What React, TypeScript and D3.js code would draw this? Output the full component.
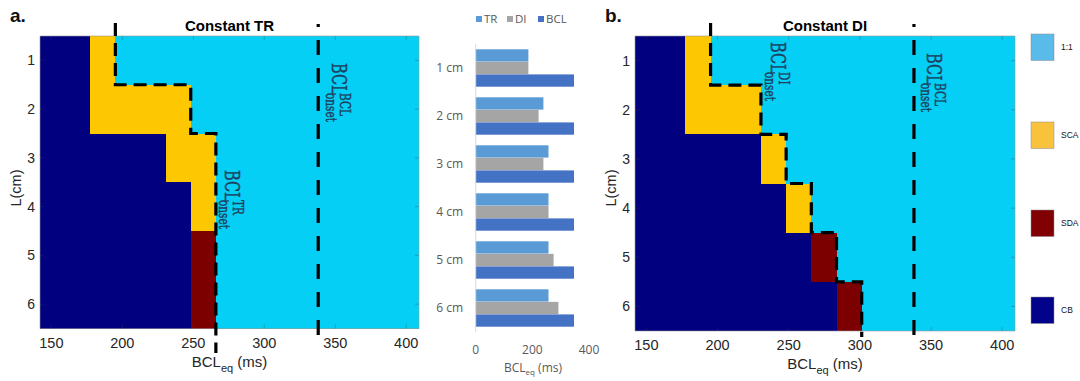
import React from "react";
import * as d3 from "d3";

// ---- Heat-map data (BCL_eq in ms, rows = cable length L in cm) ----
const rowLabels = [1, 2, 3, 4, 5, 6];
const xTicks = [150, 200, 250, 300, 350, 400];
const xDomain = [142, 409];

// Constant TR protocol: CB up to cbEnd, then arrhythmia type up to onset, 1:1 beyond
const trCbEnd = [177.4, 177.4, 230.5, 248.2, 248.2, 248.2];
const trOnset = [195.1, 248.2, 265.9, 265.9, 265.9, 265.9];
const trType = ["SCA", "SCA", "SCA", "SCA", "SDA", "SDA"];

// Constant DI protocol
const diCbEnd = [177.4, 177.4, 230.5, 248.2, 265.9, 283.6];
const diOnset = [195.1, 230.5, 248.2, 265.9, 283.6, 301.3];
const diType = ["SCA", "SCA", "SCA", "SCA", "SDA", "SDA"];

const bclOnset = 338;

// ---- Bar chart data ----
const barCategories = ["1 cm", "2 cm", "3 cm", "4 cm", "5 cm", "6 cm"];
const barSeries = ["TR", "DI", "BCL"];
const trBars = [186, 239, 257, 257, 257, 257];
const diBars = [186, 222, 239, 257, 275, 292];
const bclBars = [347, 347, 347, 347, 347, 347];
const barTicks = [0, 200, 400];

// ---- Legend ----
const stateNames = ["1:1", "SCA", "SDA", "CB"];

const stateColor: Record<string, string> = {
  "1:1": "#06cff6",
  SCA: "#fdc802",
  SDA: "#7d0000",
  CB: "#01017f",
};
const legendColor: Record<string, string> = {
  "1:1": "#58bbea",
  SCA: "#f9c23c",
  SDA: "#800004",
  CB: "#02028a",
};
const barColor: Record<string, string> = {
  TR: "#5b9bd5",
  DI: "#a5a5a5",
  BCL: "#4472c4",
};

const SANS = "Liberation Sans, Arial, sans-serif";
const SERIF = "DejaVu Serif, Liberation Serif, serif";
const OFFICE = "Open Sans, Noto Sans, sans-serif";

function OnsetLabel({ x, y, sup }: { x: number; y: number; sup: string }) {
  return (
    <g
      transform={`translate(${x},${y}) rotate(90) scale(1,1.4)`}
      fill="#1d4260"
      stroke="#1d4260"
      strokeWidth={0.35}
      fontFamily={SERIF}
    >
      <text x={0} y={0} fontSize={14.5}>
        BCL
      </text>
      <text x={30} y={-5.5} fontSize={10.5}>
        {sup}
      </text>
      <text x={30} y={4.5} fontSize={10.5}>
        onset
      </text>
    </g>
  );
}

type PanelProps = {
  left: number;
  right: number;
  top: number;
  bottom: number;
  cbEnd: number[];
  onset: number[];
  types: string[];
  title: string;
  letter: string;
  stepTop: number;
  stepEnd: number;
  supText: string;
  onsetLabel: [number, number];
  bclLabel: [number, number];
};

function HeatPanel(p: PanelProps) {
  const x = d3.scaleLinear().domain(xDomain).range([p.left, p.right]);
  const y = d3
    .scaleBand<number>()
    .domain(rowLabels)
    .range([p.top, p.bottom])
    .padding(0);
  const bw = y.bandwidth();
  const cx = (p.left + p.right) / 2;
  // pixel-snapped row edges, shared by neighbouring rows so no seams appear
  const edge = (i: number) => Math.round(p.top + i * bw + 1e-6);

  const pts: [number, number][] = [[x(p.onset[0]), p.stepTop]];
  p.onset.forEach((v, i) => {
    const last = i === p.onset.length - 1;
    const yb = last ? p.stepEnd : (y(rowLabels[i]) as number) + bw;
    pts.push([x(v), yb]);
    if (!last) pts.push([x(p.onset[i + 1]), yb]);
  });
  const stepPath = d3.line()(pts) as string;

  const tickLen = 4;
  return (
    <g>
      <text x={p.left - 30} y={22} fontFamily={SANS} fontWeight="bold" fontSize={19} fill="#111">
        {p.letter}
      </text>
      <text x={cx} y={30.5} textAnchor="middle" fontFamily={SANS} fontWeight="bold" fontSize={15} fill="#000">
        {p.title}
      </text>
      <g shapeRendering="crispEdges">
        {/* background state 1:1 */}
        <rect x={p.left} y={p.top} width={p.right - p.left} height={p.bottom - p.top} fill={stateColor["1:1"]} />
        {rowLabels.map((r, i) => {
          const y0 = edge(i);
          const y1 = edge(i + 1);
          return (
            <g key={r}>
              <rect
                x={x(xDomain[0])}
                y={y0}
                width={x(p.cbEnd[i]) - x(xDomain[0])}
                height={y1 - y0}
                fill={stateColor.CB}
              />
              <rect
                x={x(p.cbEnd[i])}
                y={y0}
                width={x(p.onset[i]) - x(p.cbEnd[i])}
                height={y1 - y0}
                fill={stateColor[p.types[i]]}
              />
            </g>
          );
        })}
      </g>
      <rect x={p.left} y={p.top} width={p.right - p.left} height={p.bottom - p.top} fill="none" stroke="#9a9a9a" strokeWidth={0.6} />
      {/* ticks */}
      <g stroke="#404040" strokeOpacity={0.45} strokeWidth={0.7}>
        {xTicks.map((t) => (
          <g key={t}>
            <line x1={x(t)} x2={x(t)} y1={p.top} y2={p.top + tickLen} />
            <line x1={x(t)} x2={x(t)} y1={p.bottom} y2={p.bottom - tickLen} />
          </g>
        ))}
        {rowLabels.map((r) => {
          const yc = (y(r) as number) + bw / 2;
          return (
            <g key={r}>
              <line x1={p.left} x2={p.left + tickLen} y1={yc} y2={yc} />
              <line x1={p.right} x2={p.right - tickLen} y1={yc} y2={yc} />
            </g>
          );
        })}
      </g>
      {/* tick labels */}
      {xTicks.map((t) => (
        <text key={t} x={x(t)} y={p.bottom + 19} textAnchor="middle" fontFamily={SANS} fontSize={14.5} fill="#262626">
          {t}
        </text>
      ))}
      {rowLabels.map((r) => (
        <text
          key={r}
          x={p.left - 5}
          y={(y(r) as number) + bw / 2 + 5}
          textAnchor="end"
          fontFamily={SANS}
          fontSize={14}
          fill="#262626"
        >
          {r}
        </text>
      ))}
      <text
        transform={`translate(${p.left - 19},188) rotate(-90)`}
        textAnchor="middle"
        fontFamily={SANS}
        fontSize={14.5}
        fill="#262626"
      >
        L(cm)
      </text>
      <text x={cx} y={p.bottom + 38} textAnchor="middle" fontFamily={SANS} fontSize={15} fill="#262626">
        BCL
        <tspan fontSize={11} dy={5}>
          eq
        </tspan>
        <tspan dy={-5}> (ms)</tspan>
      </text>
      {/* onset boundaries */}
      <path d={stepPath} fill="none" stroke="#000" strokeWidth={3.2} strokeDasharray="13 7" />
      <line
        x1={x(bclOnset)}
        x2={x(bclOnset)}
        y1={p.top - 12}
        y2={p.bottom + 10}
        stroke="#000"
        strokeWidth={3.2}
        strokeDasharray="3 13 15 13 15 13 15 13 15 13 15 13 15 13 15 13 15 13 15 13 15 13 15 13"
      />
      <OnsetLabel x={p.onsetLabel[0]} y={p.onsetLabel[1]} sup={p.supText} />
      <OnsetLabel x={p.bclLabel[0]} y={p.bclLabel[1]} sup="BCL" />
    </g>
  );
}

function BarPanel() {
  const x = d3.scaleLinear().domain([0, 400]).range([475.7, 589]);
  const y = d3
    .scaleBand<string>()
    .domain(barCategories)
    .range([44, 332])
    .paddingInner(0.21)
    .paddingOuter(0.105);
  const inner = d3.scaleBand<string>().domain(barSeries).range([0, y.bandwidth()]).padding(0.02);
  const values: Record<string, number[]> = { TR: trBars, DI: diBars, BCL: bclBars };
  const legendX = [476, 507, 538];
  return (
    <g fontFamily={OFFICE} fill="#595959">
      {barSeries.map((s, i) => (
        <g key={s}>
          <rect x={legendX[i]} y={16} width={6} height={6} fill={barColor[s]} />
          <text x={legendX[i] + 8} y={23} fontSize={11.5}>
            {s}
          </text>
        </g>
      ))}
      {barCategories.map((c, ci) => (
        <g key={c}>
          {barSeries.map((s) => (
            <rect
              key={s}
              x={x(0)}
              y={(y(c) as number) + (inner(s) as number)}
              width={x(values[s][ci]) - x(0)}
              height={inner.bandwidth()}
              fill={barColor[s]}
            />
          ))}
          <text x={463} y={(y(c) as number) + y.bandwidth() / 2 + 4} textAnchor="end" fontSize={12}>
            {c}
          </text>
        </g>
      ))}
      <line x1={x(0)} x2={x(0)} y1={44} y2={332} stroke="#d9d9d9" strokeWidth={1} />
      {barTicks.map((t) => (
        <text key={t} x={x(t)} y={354} textAnchor="middle" fontSize={12}>
          {t}
        </text>
      ))}
      <text x={533} y={372} textAnchor="middle" fontSize={12}>
        BCL
        <tspan fontSize={8} dy={3}>
          eq
        </tspan>
        <tspan dy={-3}> (ms)</tspan>
      </text>
    </g>
  );
}

function Legend() {
  const ys = [34, 122, 210, 297];
  return (
    <g>
      {stateNames.map((s, i) => (
        <g key={s}>
          <rect x={1031} y={ys[i]} width={23} height={26.5} fill={legendColor[s]} stroke="#8a8a8a" strokeWidth={0.5} />
          <text x={1061} y={ys[i] + 16} fontFamily={SANS} fontSize={8.5} fill="#111">
            {s}
          </text>
        </g>
      ))}
    </g>
  );
}

export default function App() {
  return (
    <svg
      width={1080}
      height={381}
      viewBox="0 0 1080 381"
      style={{ position: "absolute", left: 0, top: 0, background: "#fff" }}
    >
      <rect width={1080} height={381} fill="#fff" />
      <HeatPanel
        left={40}
        right={419}
        top={36}
        bottom={328.5}
        cbEnd={trCbEnd}
        onset={trOnset}
        types={trType}
        title="Constant TR"
        letter="a."
        stepTop={23}
        stepEnd={353}
        supText="TR"
        onsetLabel={[225, 170]}
        bclLabel={[332, 63]}
      />
      <BarPanel />
      <HeatPanel
        left={635}
        right={1015}
        top={36}
        bottom={331}
        cbEnd={diCbEnd}
        onset={diOnset}
        types={diType}
        title="Constant DI"
        letter="b."
        stepTop={23}
        stepEnd={337}
        supText="DI"
        onsetLabel={[771, 42]}
        bclLabel={[927, 53]}
      />
      <Legend />
    </svg>
  );
}
